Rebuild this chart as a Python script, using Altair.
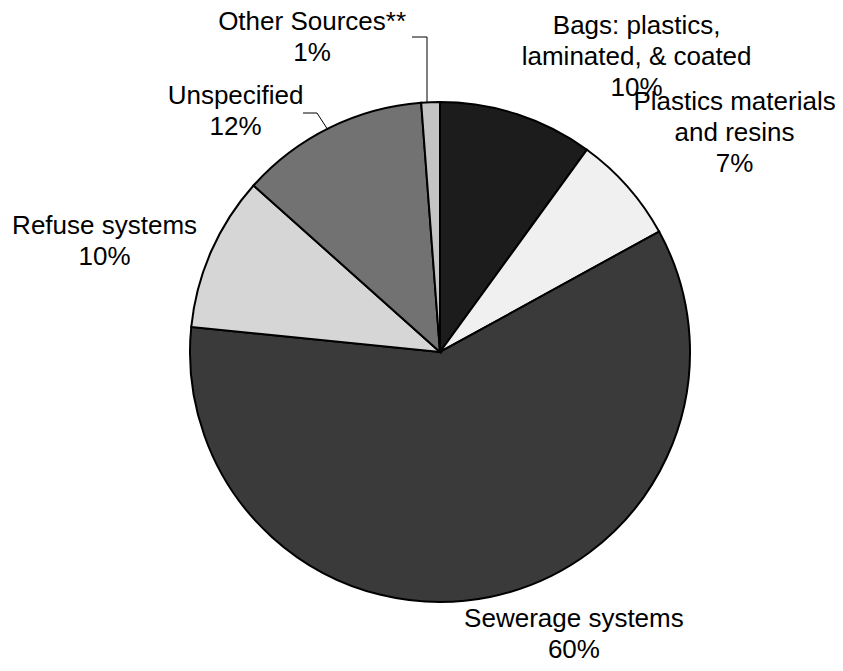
import altair as alt
import pandas as pd

# ---- data ----
categories = [
    "Bags: plastics, laminated, & coated",
    "Plastics materials and resins",
    "Sewerage systems",
    "Refuse systems",
    "Unspecified",
    "Other Sources**",
]
shares = [10.0, 7.0, 59.6, 10.0, 12.2, 1.2]
label_lines = [
    ["Bags: plastics,", "laminated, & coated", "10%"],
    ["Plastics materials", "and resins", "7%"],
    ["Sewerage systems", "60%"],
    ["Refuse systems", "10%"],
    ["Unspecified", "12%"],
    ["Other Sources**", "1%"],
]
slice_order = [0, 1, 2, 3, 4, 5]

# ---- styles (approximate grey tones of the hatch patterns) ----
fills = ["#1c1c1c", "#f0f0f0", "#3a3a3a", "#d6d6d6", "#727272", "#c4c4c4"]
label_offsets = [(107, -50), (77, -58), (76, -17), (-70, -9), (-76, 4), (-117, -40)]

df = pd.DataFrame({
    "category": categories,
    "share": shares,
    "label": label_lines,
    "order": slice_order,
})

CX, CY, R = 432, 344, 250
FONT = "Liberation Sans"

base = alt.Chart(df).encode(
    theta=alt.Theta("share:Q", stack=True),
    order=alt.Order("order:Q", sort="ascending"),
)

pie = base.mark_arc(outerRadius=R, stroke="black", strokeWidth=2).encode(
    color=alt.Color("category:N", scale=alt.Scale(domain=categories, range=fills), legend=None),
    x=alt.value(CX),
    y=alt.value(CY),
)

layers = [pie]
for cat, (dx, dy) in zip(categories, label_offsets):
    t = base.mark_text(
        radius=290, dx=dx, dy=dy, font=FONT, fontSize=26, lineHeight=31,
        align="center", baseline="middle", color="black",
    ).encode(
        x=alt.value(CX),
        y=alt.value(CY),
        text=alt.condition(alt.datum.category == cat, alt.Text("label:N"), alt.value("")),
    )
    layers.append(t)

one = alt.Chart(alt.Data(values=[{"k": 0}]))
leaders = [
    (419, 95, 419, 29),
    (404, 29, 419, 29),
    (295, 105, 309, 105),
    (309, 105, 320, 122),
]
for x1, y1, x2, y2 in leaders:
    layers.append(
        one.mark_rule(color="black", strokeWidth=1).encode(
            x=alt.value(x1), y=alt.value(y1), x2=alt.value(x2), y2=alt.value(y2)
        )
    )

chart = alt.layer(*layers).properties(
    width=827, height=655, autosize="none", padding=0
).configure_view(stroke=None)

chart.save("out.html", embed_options={"renderer": "svg", "actions": False})
